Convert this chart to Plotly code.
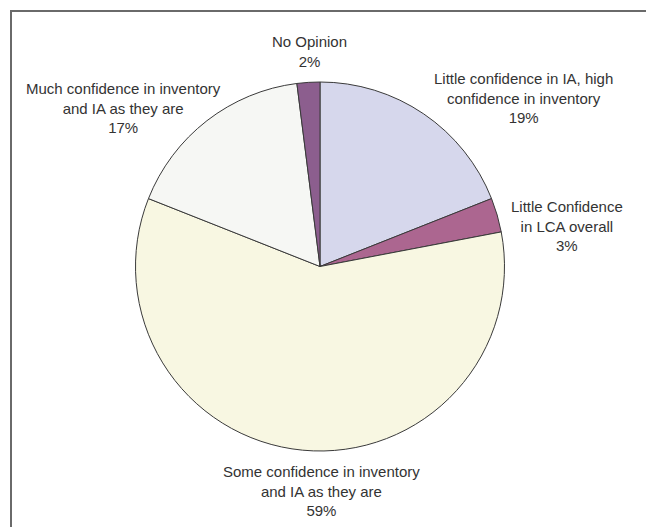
import plotly.graph_objects as go

# Survey responses on confidence in LCA inventory and impact assessment (IA)
labels = [
    "Little confidence in IA, high<br>confidence in inventory",
    "Little Confidence<br>in LCA overall",
    "Some confidence in inventory<br>and IA as they are",
    "Much confidence in inventory<br>and IA as they are",
    "No Opinion",
]
shares = [19, 3, 59, 17, 2]
colors = ["#D6D7EC", "#AC6690", "#F8F7E2", "#F6F7F4", "#8C5E8E"]

# Label anchor points (pixels from top-left of the 652x527 canvas)
label_x = [523, 567, 321, 123, 309]
label_y = [98, 226, 491, 108, 52]

W, H = 652, 527

fig = go.Figure(
    go.Pie(
        labels=labels,
        values=shares,
        sort=False,
        direction="clockwise",
        rotation=0,
        marker=dict(colors=colors, line=dict(color="#3a3a3a", width=1)),
        textinfo="none",
        hoverinfo="label+percent",
        showlegend=False,
        domain=dict(x=[135 / W, 505 / W], y=[1 - 451 / H, 1 - 82 / H]),
    )
)

total = sum(shares)
annotations = []
for lab, v, x, y in zip(labels, shares, label_x, label_y):
    annotations.append(
        dict(
            text=f"{lab}<br>{round(100 * v / total)}%",
            x=x / W,
            y=1 - y / H,
            xref="paper",
            yref="paper",
            xanchor="center",
            yanchor="middle",
            showarrow=False,
            align="center",
            font=dict(family="Liberation Sans, Arial, sans-serif", size=15, color="#333333"),
        )
    )

# Frame along the left and top edges, drawn as one open path
fx0, fx1, fy_top, fy_bot = 11 / W, 646 / W, 1 - 11 / H, 0
shapes = [
    dict(type="path", xref="paper", yref="paper",
         path=f"M {fx0},{fy_bot} L {fx0},{fy_top} L {fx1},{fy_top}",
         line=dict(color="#6a6a6a", width=2), fillcolor="rgba(0,0,0,0)"),
]

fig.update_layout(
    width=W,
    height=H,
    margin=dict(l=0, r=0, t=0, b=0),
    paper_bgcolor="white",
    plot_bgcolor="white",
    annotations=annotations,
    shapes=shapes,
)

fig.write_html("out.html", config={"displayModeBar": False})
